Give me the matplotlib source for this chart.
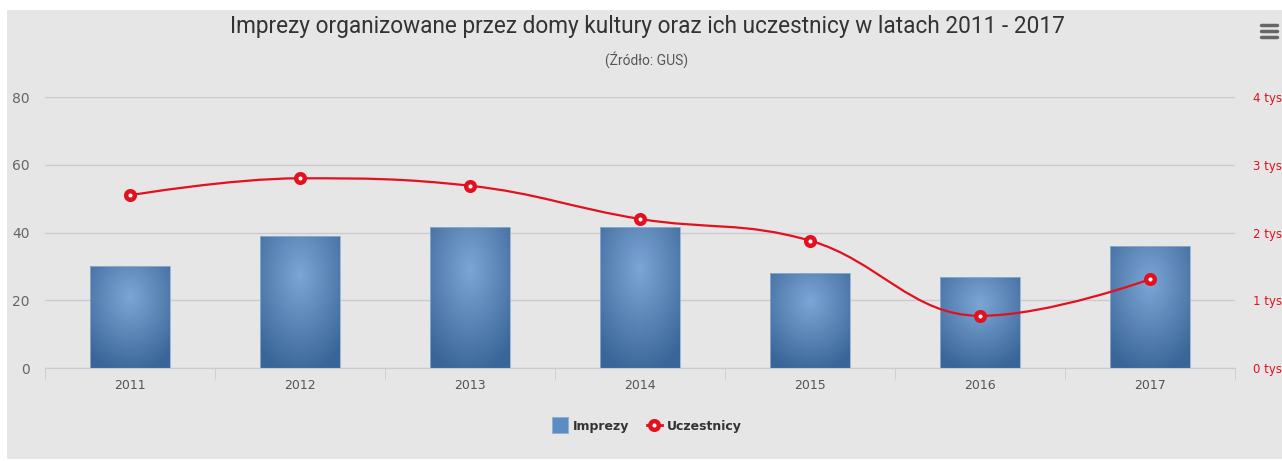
import numpy as np
import matplotlib.pyplot as plt
from matplotlib.path import Path
from matplotlib.patches import PathPatch, Rectangle
from matplotlib.lines import Line2D

years = ['2011', '2012', '2013', '2014', '2015', '2016', '2017']
imprezy = [30, 39, 41.5, 41.5, 28, 27, 36]
uczestnicy = [2.55, 2.80, 2.69, 2.20, 1.88, 0.77, 1.31]   # tys
left_ticks = [0, 20, 40, 60, 80]
right_ticks = [0, 1, 2, 3, 4]
right_labels = ['0 tys', '1 tys', '2 tys', '3 tys', '4 tys']

BG = '#e6e6e6'
RED = '#e3101f'
GRID = '#c8cbd0'

fig = plt.figure(figsize=(12.82, 4.61), dpi=100, facecolor='white')
fig.patches.append(Rectangle((7 / 1282, 2 / 461), 1, (459 - 10) / 461, transform=fig.transFigure,
                             facecolor=BG, edgecolor='none', zorder=-10))

ax = fig.add_axes([45 / 1282, 93 / 461, 1190 / 1282, 271 / 461])
ax.set_facecolor('none')
x = np.arange(len(years))

# bars with radial gradient (centre a bit above the middle)
gv, gu = np.mgrid[0:1:150j, 0:1:150j]
r = np.clip(np.sqrt(((gu - 0.5) / 0.75) ** 2 + ((gv - 0.3) / 0.75) ** 2), 0, 1)
c_in = np.array([124, 166, 212]) / 255
c_out = np.array([58, 101, 152]) / 255
grad = c_in[None, None, :] * (1 - r[..., None]) + c_out[None, None, :] * r[..., None]
bw = 0.47
bars = ax.bar(x, imprezy, width=bw, color='none', edgecolor='none', zorder=2)
for b in bars:
    x0, w, h = b.get_x(), b.get_width(), b.get_height()
    im = ax.imshow(grad, extent=[x0, x0 + w, 0, h], aspect='auto', zorder=2, interpolation='bilinear')
    clip = Rectangle((x0, 0), w, h, transform=ax.transData, facecolor='none')
    im.set_clip_path(clip)
    ax.add_patch(Rectangle((x0, 0), w, h, facecolor='none', edgecolor='#8fb0d3', lw=0.6, zorder=3))

ax.set_xlim(-0.5, len(years) - 0.5)
ax.set_ylim(0, 80)
ax.set_yticks(left_ticks)
ax.set_yticklabels([str(t) for t in left_ticks])
ax.grid(axis='y', color=GRID, lw=1, zorder=0)
ax.set_axisbelow(True)
for s in ['top', 'left', 'right']:
    ax.spines[s].set_visible(False)
ax.spines['bottom'].set_color(GRID)
ax.tick_params(axis='y', length=0, pad=11, labelsize=10, labelcolor='#666666')
ax.set_xticks(x)
ax.set_xticklabels(years)
ax.tick_params(axis='x', length=0, pad=8, labelsize=9, labelcolor='#555555')
ax.set_xticks(np.arange(-0.5, len(years)), minor=True)
ax.tick_params(axis='x', which='minor', length=8, color=GRID, direction='out')

# right axis with spline
ax2 = ax.twinx()
ax2.set_ylim(0, 4)
ax2.set_yticks(right_ticks)
ax2.set_yticklabels(right_labels)
ax2.tick_params(axis='y', length=0, pad=13, labelsize=8.5, labelcolor=RED)
for s in ax2.spines.values():
    s.set_visible(False)

sm = 1.5
den = sm + 1
px, py = list(x.astype(float)), list(uczestnicy)
n = len(px)
lc = [None] * n
rc = [None] * n
for i in range(1, n - 1):
    lcx = (sm * px[i] + px[i - 1]) / den
    lcy = (sm * py[i] + py[i - 1]) / den
    rcx = (sm * px[i] + px[i + 1]) / den
    rcy = (sm * py[i] + py[i + 1]) / den
    corr = ((rcy - lcy) * (rcx - px[i])) / (rcx - lcx) + py[i] - rcy
    lcy += corr
    rcy += corr
    if lcy > max(py[i - 1], py[i]):
        lcy = max(py[i - 1], py[i]); rcy = 2 * py[i] - lcy
    elif lcy < min(py[i - 1], py[i]):
        lcy = min(py[i - 1], py[i]); rcy = 2 * py[i] - lcy
    if rcy > max(py[i], py[i + 1]):
        rcy = max(py[i], py[i + 1]); lcy = 2 * py[i] - rcy
    elif rcy < min(py[i], py[i + 1]):
        rcy = min(py[i], py[i + 1]); lcy = 2 * py[i] - rcy
    lc[i] = (lcx, lcy)
    rc[i] = (rcx, rcy)
verts = [(px[0], py[0])]
codes = [Path.MOVETO]
for i in range(1, n):
    c1 = rc[i - 1] if rc[i - 1] else (px[i - 1], py[i - 1])
    c2 = lc[i] if lc[i] else (px[i], py[i])
    verts += [c1, c2, (px[i], py[i])]
    codes += [Path.CURVE4] * 3
ax2.add_patch(PathPatch(Path(verts, codes), facecolor='none', edgecolor=RED, lw=1.6, zorder=4))
ax2.plot(px, py, ls='none', marker='o', ms=6.2, mfc='white', mec=RED, mew=3.2, zorder=5)

# titles
fig.text(647 / 1282, 1 - 27 / 461, 'Imprezy organizowane przez domy kultury oraz ich uczestnicy w latach 2011 - 2017',
         ha='center', va='center', fontsize=16.3, color='#333333', family=['Roboto', 'DejaVu Sans'])
fig.text(647 / 1282, 1 - 60 / 461, '(Źródło: GUS)', ha='center', va='center', fontsize=10,
         color='#555555', family=['Roboto', 'DejaVu Sans'])

# legend
handles = [Line2D([], [], ls='none', marker='s', ms=11.5, mfc='#5b8cc2', mec='#8fb0d3', mew=0.6),
           Line2D([], [], color=RED, lw=2, marker='o', ms=6.2, mfc='white', mec=RED, mew=3.2)]
leg = fig.legend(handles, ['Imprezy', 'Uczestnicy'], loc='center', bbox_to_anchor=(647 / 1282, 1 - 426 / 461),
                 ncol=2, frameon=False, handlelength=1.2, handletextpad=0.4, columnspacing=1.4,
                 prop={'size': 9, 'weight': 'bold'})
for t in leg.get_texts():
    t.set_color('#333333')

# menu icon
for yy in [25, 31, 37]:
    fig.add_artist(Line2D([1261 / 1282, 1277 / 1282], [1 - yy / 461, 1 - yy / 461], color='#666666',
                          lw=2.5, solid_capstyle='round', transform=fig.transFigure))

fig.savefig('out.png', dpi=100, facecolor='white')
